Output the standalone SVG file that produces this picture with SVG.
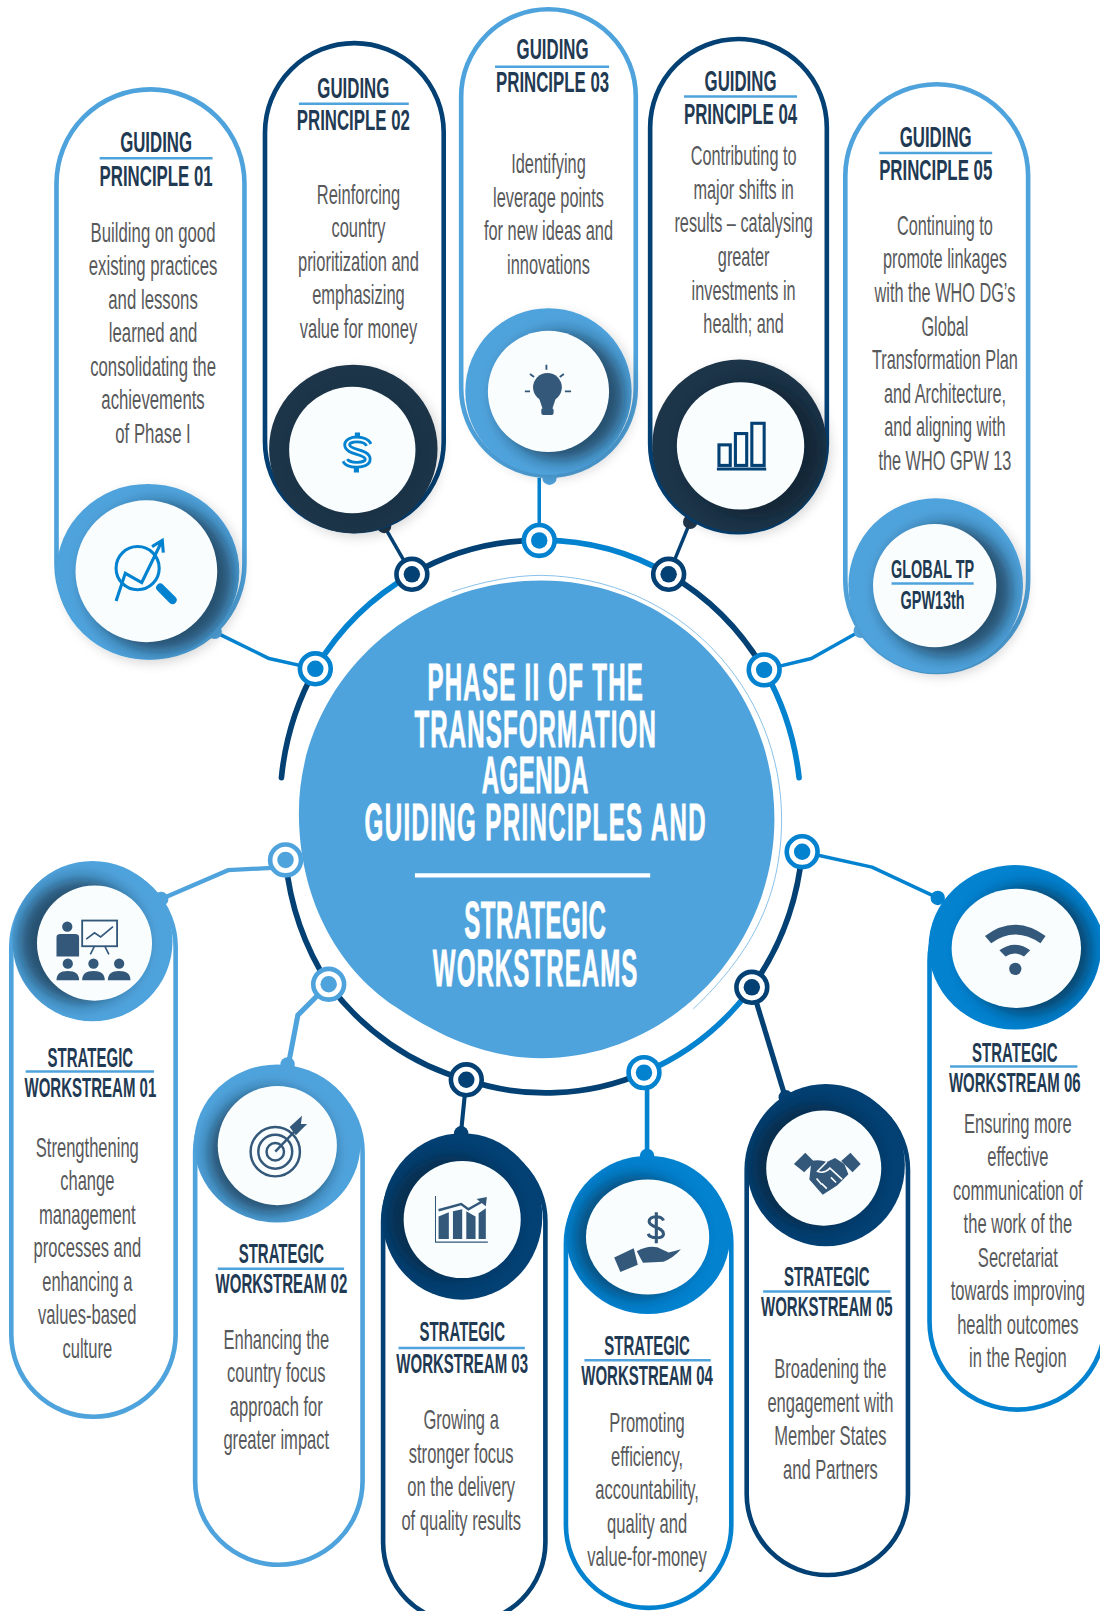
<svg xmlns="http://www.w3.org/2000/svg" width="1100" height="1611" viewBox="0 0 1100 1611">
<style>
text{font-family:"Liberation Sans",Arial,sans-serif;text-anchor:middle}
.h{font-weight:700;font-size:29px;fill:#1f3a52}
.w{font-weight:700;font-size:26px;fill:#1f3a52}
.b{font-size:27px;fill:#58595b}
.t{font-weight:700;font-size:51px;fill:#fff;stroke:#fff;stroke-width:.8}
.u{stroke:#4fa3dc;stroke-width:2.4;fill:none}
.pill{fill:#fff;stroke-width:4.5}
.in{fill:#f9fdfe}
.sh{fill:#071c2c;opacity:.62;filter:url(#blur)}
.lt{stroke:#4fa3dc}.nv{stroke:#034073}.br{stroke:#0382d0}
.flt{fill:#4fa3dc}.fnv{fill:#034073}.fbr{fill:#0382d0}.fdk{fill:#1f3549}
.arc{fill:none;stroke-width:5.5;stroke-linecap:round}
.lnk{fill:none;stroke-width:3.4;stroke-linejoin:round}
.ring{filter:url(#ds)}
.ic{fill:#34587a}
.icl{fill:none;stroke:#34587a;stroke-width:2.4}
.hub{fill:#fff;stroke-width:4.5}
</style>
<defs>
<filter id="blur" x="-40%" y="-40%" width="180%" height="180%"><feGaussianBlur stdDeviation="8"/></filter>
<filter id="ds" x="-20%" y="-20%" width="140%" height="140%"><feDropShadow dx="4" dy="4" stdDeviation="5" flood-color="#000" flood-opacity=".15"/></filter>
<clipPath id="c1"><ellipse cx="144" cy="556.5" rx="89" ry="85.5"/></clipPath>
<clipPath id="c2"><circle cx="344" cy="437" r="82"/></clipPath>
<clipPath id="c3"><circle cx="534" cy="381" r="81"/></clipPath>
<clipPath id="c4"><ellipse cx="720" cy="434" rx="85" ry="84"/></clipPath>
<clipPath id="c5"><circle cx="911" cy="570" r="85"/></clipPath>
<clipPath id="d1"><ellipse cx="90" cy="916" rx="78" ry="78"/></clipPath>
<clipPath id="d2"><ellipse cx="270" cy="1113" rx="81" ry="77"/></clipPath>
<clipPath id="d3"><ellipse cx="450" cy="1184" rx="78" ry="81"/></clipPath>
<clipPath id="d4"><ellipse cx="631" cy="1202" rx="80" ry="77"/></clipPath>
<clipPath id="d5"><ellipse cx="804" cy="1134" rx="77" ry="79"/></clipPath>
<clipPath id="d6"><ellipse cx="988" cy="922" rx="84" ry="80"/></clipPath>
</defs>
<g transform="scale(1.0271,1.0274)">
<g id="connectors">
<path class="arc nv" d="M274 757A252 264 0 0 1 307 651"/>
<path class="arc br" d="M307 651A252 264 0 0 1 401 559"/>
<path class="arc nv" d="M401 559A252 264 0 0 1 525 526"/>
<path class="arc br" d="M525 526A252 264 0 0 1 651 559"/>
<path class="arc nv" d="M651 559A252 264 0 0 1 744 652"/>
<path class="arc br" d="M744 652A252 264 0 0 1 778 757"/>
<path class="arc nv" d="M278 837A252 264 0 0 0 320 958"/>
<path class="arc nv" d="M320 958A252 264 0 0 0 454 1051"/>
<path class="arc nv" d="M454 1051A252 264 0 0 0 627 1044"/>
<path class="arc br" d="M627 1044A252 264 0 0 0 732 961"/>
<path class="arc nv" d="M732 961A252 264 0 0 0 781 829"/>
<path class="lnk br" d="M209 615L262 641L307 651"/>
<path class="lnk nv" d="M374 512L401 559"/>
<path class="lnk br" d="M525 465V526"/>
<path class="lnk nv" d="M672 508L651 559"/>
<path class="lnk br" d="M838 614L790 641L744 652"/>
<path class="lnk lt" style="stroke-width:4.2" d="M157 875L222 847L278 844"/>
<path class="lnk lt" style="stroke-width:5" d="M320 958L290 988L281 1035"/>
<path class="lnk nv" style="stroke-width:4" d="M454 1051L449 1101"/>
<path class="lnk br" style="stroke-width:4.5" d="M630 1044V1125"/>
<path class="lnk nv" style="stroke-width:5" d="M732 961L764 1066"/>
<path class="lnk br" d="M781 829L849 844L913 874"/>
<circle class="flt" cx="209" cy="615" r="7"/><circle class="fdk" cx="374" cy="512" r="7"/><circle class="flt" cx="535" cy="465" r="7"/><circle class="fdk" cx="672" cy="508" r="7"/><circle class="flt" cx="838" cy="614" r="7"/>
<circle class="flt" cx="157" cy="875" r="7"/><circle class="flt" cx="280" cy="1036" r="7"/><circle class="fnv" cx="449" cy="1103" r="7"/><circle class="fbr" cx="630" cy="1125" r="7"/><circle class="fnv" cx="765" cy="1068" r="7"/><circle class="fbr" cx="913" cy="874" r="7"/>
</g>
<g id="hub">
<path fill="none" stroke="#7fbce6" stroke-width=".9" d="M440 576C470 566 500 560 527 560C660 562 762 670 761 800C760 870 735 925 675 982"/>
<path class="flt" d="M527 565C655 565 754 668 754 797C754 925 650 1030 527 1030C475 1030 430 1010 385 980C325 940 291 870 291 791C291 668 395 565 527 565Z"/>
<text class="t" transform="translate(521,681) scale(.46,1)" textLength="456" lengthAdjust="spacing">PHASE II OF THE</text>
<text class="t" transform="translate(521,727) scale(.46,1)" textLength="511" lengthAdjust="spacing">TRANSFORMATION</text>
<text class="t" transform="translate(521,772) scale(.46,1)" textLength="226" lengthAdjust="spacing">AGENDA</text>
<text class="t" transform="translate(521,818) scale(.46,1)" textLength="722" lengthAdjust="spacing">GUIDING PRINCIPLES AND</text>
<path stroke="#fff" stroke-width="4" d="M404 852H633"/>
<text class="t" transform="translate(521,913) scale(.46,1)" textLength="300" lengthAdjust="spacing">STRATEGIC</text>
<text class="t" transform="translate(521,960) scale(.46,1)" textLength="433" lengthAdjust="spacing">WORKSTREAMS</text>
</g>

<g id="gp1">
<rect class="pill lt" x="55" y="87" width="183" height="553" rx="91.5"/>
<ellipse class="ring flt" cx="144" cy="556.5" rx="89" ry="85.5"/>
<g clip-path="url(#c1)"><circle class="sh" cx="155" cy="562" r="72"/></g>
<circle class="in" cx="142.5" cy="556" r="69"/>
<g fill="none" stroke="#0382d0" stroke-width="3"><circle cx="134" cy="553" r="21"/><path d="M113 585L122 558L138 567L157 528M148 532L158 526L159 538"/></g>
<path stroke="#0382d0" stroke-width="8" stroke-linecap="round" d="M156 572L168 584"/>
<text class="h" transform="translate(152,148) scale(.565,1)">GUIDING</text><path class="u" d="M97 154H207"/>
<text class="h" transform="translate(152,181) scale(.565,1)">PRINCIPLE 01</text>
<text class="b" transform="translate(149,235.5) scale(.605,1)"><tspan x="0">Building on good</tspan><tspan x="0" dy="32.6">existing practices</tspan><tspan x="0" dy="32.6">and lessons</tspan><tspan x="0" dy="32.6">learned and</tspan><tspan x="0" dy="32.6">consolidating the</tspan><tspan x="0" dy="32.6">achievements</tspan><tspan x="0" dy="32.6">of Phase I</tspan></text>
</g>

<g id="gp2">
<rect class="pill nv" x="258" y="42" width="174" height="475" rx="87"/>
<circle class="ring fdk" cx="344" cy="437" r="82"/>
<g clip-path="url(#c2)"><circle class="sh" cx="350" cy="442" r="64" style="opacity:.12"/></g>
<circle class="in" cx="343" cy="438" r="61.5"/>
<path stroke="#0382d0" stroke-width="5" d="M348 421V428M347 453V460"/>
<path fill="none" stroke="#0382d0" stroke-width="7.5" d="M359 433C356 426 338 426 338 433C338 441 358 439 358 447C358 454 339 454 336 448"/>
<path fill="none" stroke="#f9fdfe" stroke-width="2" d="M359 433C356 426 338 426 338 433C338 441 358 439 358 447C358 454 339 454 336 448"/>
<text class="h" transform="translate(344,95) scale(.565,1)">GUIDING</text><path class="u" d="M291 101H398"/>
<text class="h" transform="translate(344,127) scale(.565,1)">PRINCIPLE 02</text>
<text class="b" transform="translate(349,198.5) scale(.595,1)"><tspan x="0">Reinforcing</tspan><tspan x="0" dy="32.6">country</tspan><tspan x="0" dy="32.6">prioritization and</tspan><tspan x="0" dy="32.6">emphasizing</tspan><tspan x="0" dy="32.6">value for money</tspan></text>
</g>

<g id="gp3">
<rect class="pill lt" x="449" y="9" width="170" height="454" rx="85"/>
<circle class="ring flt" cx="534" cy="381" r="81"/>
<g clip-path="url(#c3)"><circle class="sh" cx="546" cy="386" r="62"/></g>
<circle class="in" cx="534" cy="381" r="59"/>
<circle class="ic" cx="533" cy="377" r="14"/><path class="ic" d="M524 385H542L538 397H528Z"/><rect class="ic" x="527" y="397" width="12" height="7" rx="2"/>
<path class="icl" style="stroke-width:1.8" d="M532 355V360M511 381H516M550 381H556M516 364L520 367M549 364L545 367"/>
<text class="h" transform="translate(538,57.5) scale(.565,1)">GUIDING</text><path class="u" d="M482 65H593"/>
<text class="h" transform="translate(538,90) scale(.565,1)">PRINCIPLE 03</text>
<text class="b" transform="translate(534,168.5) scale(.59,1)"><tspan x="0">Identifying</tspan><tspan x="0" dy="32.6">leverage points</tspan><tspan x="0" dy="32.6">for new ideas and</tspan><tspan x="0" dy="32.6">innovations</tspan></text>
</g>

<g id="gp4">
<rect class="pill nv" x="633" y="38" width="172" height="480" rx="86"/>
<ellipse class="ring fdk" cx="720" cy="434" rx="85" ry="84"/>
<g clip-path="url(#c4)"><circle class="sh" cx="733" cy="438" r="66"/></g>
<circle class="in" cx="721" cy="434" r="62"/>
<g fill="none" stroke="#034073" stroke-width="3"><rect x="700" y="433" width="11" height="20"/><rect x="716" y="422" width="11" height="31"/><rect x="732" y="412" width="12" height="41"/><path d="M698 456.5H746"/></g>
<text class="h" transform="translate(721,89) scale(.565,1)">GUIDING</text><path class="u" d="M666 94H776"/>
<text class="h" transform="translate(721,121) scale(.565,1)">PRINCIPLE 04</text>
<text class="b" transform="translate(724,160.5) scale(.587,1)"><tspan x="0">Contributing to</tspan><tspan x="0" dy="32.8">major shifts in</tspan><tspan x="0" dy="32.8">results – catalysing</tspan><tspan x="0" dy="32.8">greater</tspan><tspan x="0" dy="32.8">investments in</tspan><tspan x="0" dy="32.8">health; and</tspan></text>
</g>

<g id="gp5">
<rect class="pill lt" x="823" y="82" width="178" height="572" rx="89"/>
<circle class="ring flt" cx="911" cy="570" r="85"/>
<g clip-path="url(#c5)"><circle class="sh" cx="921" cy="575" r="64"/></g>
<circle class="in" cx="910" cy="570" r="60"/>
<text class="w" transform="translate(908,563) scale(.54,1)">GLOBAL TP</text><path class="u" d="M868 568H948"/>
<text class="w" transform="translate(908,593) scale(.54,1)">GPW13th</text>
<text class="h" transform="translate(911,143) scale(.565,1)">GUIDING</text><path class="u" d="M856 149H966"/>
<text class="h" transform="translate(911,175) scale(.565,1)">PRINCIPLE 05</text>
<text class="b" transform="translate(920,228.5) scale(.587,1)"><tspan x="0">Continuing to</tspan><tspan x="0" dy="32.7">promote linkages</tspan><tspan x="0" dy="32.7">with the WHO DG’s</tspan><tspan x="0" dy="32.7">Global</tspan><tspan x="0" dy="32.7">Transformation Plan</tspan><tspan x="0" dy="32.7">and Architecture,</tspan><tspan x="0" dy="32.7">and aligning with</tspan><tspan x="0" dy="32.7">the WHO GPW 13</tspan></text>
</g>

<g id="ws1">
<rect class="pill lt" x="11" y="842" width="160" height="537" rx="80"/>
<ellipse class="flt" cx="90" cy="916" rx="78" ry="78"/>
<g clip-path="url(#d1)"><circle class="sh" cx="79" cy="916" r="60"/></g>
<circle class="in" cx="92" cy="918" r="56"/>
<circle class="ic" cx="65.5" cy="902" r="5"/><path class="ic" d="M55 912Q55 909 59 909H73Q77 909 77 912V931H55Z"/>
<rect x="80" y="896" width="34" height="25" fill="none" stroke="#34587a" stroke-width="1.8"/><path class="icl" style="stroke-width:1.6" d="M84 914L92 908L98 912L110 902M92 921L88 929M102 921L106 929"/>
<g class="ic"><circle cx="66" cy="938" r="5"/><path d="M55 954Q55 945 66 945Q77 945 77 954Z"/><circle cx="91" cy="938" r="5"/><path d="M80 954Q80 945 91 945Q102 945 102 954Z"/><circle cx="116" cy="938" r="5"/><path d="M105 954Q105 945 116 945Q127 945 127 954Z"/></g>
<text class="w" transform="translate(88,1038.5) scale(.562,1)">STRATEGIC</text><path class="u" d="M25 1043H150"/>
<text class="w" transform="translate(88,1068) scale(.562,1)">WORKSTREAM 01</text>
<text class="b" transform="translate(85,1126) scale(.597,1)"><tspan x="0">Strengthening</tspan><tspan x="0" dy="32.6">change</tspan><tspan x="0" dy="32.6">management</tspan><tspan x="0" dy="32.6">processes and</tspan><tspan x="0" dy="32.6">enhancing a</tspan><tspan x="0" dy="32.6">values-based</tspan><tspan x="0" dy="32.6">culture</tspan></text>
</g>

<g id="ws2">
<rect class="pill lt" x="190" y="1040" width="163" height="483" rx="81.5"/>
<ellipse class="flt" cx="270" cy="1113" rx="81" ry="77"/>
<g clip-path="url(#d2)"><circle class="sh" cx="263" cy="1121" r="60"/></g>
<circle class="in" cx="270" cy="1115" r="58"/>
<g fill="none" stroke="#34587a" stroke-width="2.4"><circle cx="268" cy="1121" r="24"/><circle cx="268" cy="1121" r="16.5"/><circle cx="268" cy="1121" r="8.5"/><path d="M268 1121L288 1100"/></g>
<path class="ic" d="M282 1097L294 1086L293 1094L299 1094L288 1105Z"/>
<text class="w" transform="translate(274,1229.5) scale(.562,1)">STRATEGIC</text><path class="u" d="M212 1235H335"/>
<text class="w" transform="translate(274,1259) scale(.562,1)">WORKSTREAM 02</text>
<text class="b" transform="translate(269,1313) scale(.597,1)"><tspan x="0">Enhancing the</tspan><tspan x="0" dy="32.6">country focus</tspan><tspan x="0" dy="32.6">approach for</tspan><tspan x="0" dy="32.6">greater impact</tspan></text>
</g>

<g id="ws3">
<rect class="pill nv" x="373" y="1110" width="158" height="470" rx="79"/>
<ellipse class="fnv" cx="450" cy="1184" rx="78" ry="81"/>
<g clip-path="url(#d3)"><circle class="sh" cx="439" cy="1185" r="60" style="opacity:.5"/></g>
<circle class="in" cx="450" cy="1187" r="57"/>
<g class="ic"><path d="M427 1184L437 1180V1206H427Z"/><path d="M441 1179L450 1177V1206H441Z"/><path d="M454 1179L463 1184V1206H454Z"/><path d="M466 1181L473 1176V1206H466Z"/></g>
<path class="icl" d="M427 1178L449 1172L456 1177L472 1168"/><path class="ic" d="M464 1167L474 1165L473 1174Z"/>
<path fill="none" stroke="#34587a" stroke-width="1" d="M424 1164V1209H475"/>
<text class="w" transform="translate(450,1305.5) scale(.562,1)">STRATEGIC</text><path class="u" d="M388 1312H511"/>
<text class="w" transform="translate(450,1336) scale(.562,1)">WORKSTREAM 03</text>
<text class="b" transform="translate(449,1391) scale(.597,1)"><tspan x="0">Growing a</tspan><tspan x="0" dy="32.6">stronger focus</tspan><tspan x="0" dy="32.6">on the delivery</tspan><tspan x="0" dy="32.6">of quality results</tspan></text>
</g>

<g id="ws4">
<rect class="pill br" x="551" y="1130" width="161" height="435" rx="80.5"/>
<ellipse class="fbr" cx="631" cy="1202" rx="80" ry="77"/>
<g clip-path="url(#d4)"><circle class="sh" cx="620" cy="1204" r="60" style="opacity:.5"/></g>
<ellipse class="in" cx="630.5" cy="1204" rx="60" ry="56"/>
<path class="icl" style="stroke-width:3" d="M646 1188C644 1183 632 1183 632 1189C632 1195 646 1194 646 1201C646 1206 633 1206 631 1201M639 1180V1210"/>
<path class="ic" d="M598 1224L617 1215L621 1231L604 1238Z"/>
<path class="ic" d="M620 1218Q630 1212 640 1214L651 1219Q657 1218 663 1216Q655 1225 646 1228L626 1229Z"/>
<text class="w" transform="translate(630,1318.5) scale(.562,1)">STRATEGIC</text><path class="u" d="M569 1324H692"/>
<text class="w" transform="translate(630,1348) scale(.562,1)">WORKSTREAM 04</text>
<text class="b" transform="translate(630,1394) scale(.597,1)"><tspan x="0">Promoting</tspan><tspan x="0" dy="32.6">efficiency,</tspan><tspan x="0" dy="32.6">accountability,</tspan><tspan x="0" dy="32.6">quality and</tspan><tspan x="0" dy="32.6">value-for-money</tspan></text>
</g>

<g id="ws5">
<rect class="pill nv" x="727" y="1060" width="157" height="473" rx="78.5"/>
<ellipse class="fnv" cx="804" cy="1134" rx="77" ry="79"/>
<g clip-path="url(#d5)"><circle class="sh" cx="793" cy="1135" r="60" style="opacity:.55"/></g>
<circle class="in" cx="802" cy="1137" r="56"/>
<g class="ic"><path d="M773 1133L784 1122L793 1131L783 1141Z"/><path d="M838 1133L828 1122L819 1130L830 1141Z"/><path d="M790 1130Q798 1128 805 1131L813 1127L822 1133L826 1143L815 1154L801 1163L788 1148Z"/></g>
<path fill="none" stroke="#f9fdfe" stroke-width="1.6" d="M805 1131L796 1140Q802 1143 808 1137L820 1148M800 1152L805 1157M795 1147L800 1153M809 1146L814 1151"/>
<text class="w" transform="translate(805,1251.5) scale(.562,1)">STRATEGIC</text><path class="u" d="M743 1257H867"/>
<text class="w" transform="translate(805,1281) scale(.562,1)">WORKSTREAM 05</text>
<text class="b" transform="translate(808.5,1341.5) scale(.597,1)"><tspan x="0">Broadening the</tspan><tspan x="0" dy="32.6">engagement with</tspan><tspan x="0" dy="32.6">Member States</tspan><tspan x="0" dy="32.6">and Partners</tspan></text>
</g>

<g id="ws6">
<rect class="pill br" x="905" y="850" width="171" height="522" rx="85.5"/>
<ellipse class="fbr" cx="988" cy="922" rx="84" ry="80"/>
<g clip-path="url(#d6)"><circle class="sh" cx="1000" cy="925" r="62"/></g>
<ellipse class="in" cx="989.5" cy="923" rx="63" ry="58"/>
<g class="ic"><path d="M959 911Q988 889 1018 911L1013 918Q988 901 965 918Z"/><path d="M973 925Q988 914 1003 925L997 931Q988 925 979 931Z"/><circle cx="988.5" cy="943" r="6"/></g>
<text class="w" transform="translate(988,1033.5) scale(.562,1)">STRATEGIC</text><path class="u" d="M925 1038H1049"/>
<text class="w" transform="translate(988,1063) scale(.562,1)">WORKSTREAM 06</text>
<text class="b" transform="translate(991,1102.5) scale(.597,1)"><tspan x="0">Ensuring more</tspan><tspan x="0" dy="32.6">effective</tspan><tspan x="0" dy="32.6">communication of</tspan><tspan x="0" dy="32.6">the work of the</tspan><tspan x="0" dy="32.6">Secretariat</tspan><tspan x="0" dy="32.6">towards improving</tspan><tspan x="0" dy="32.6">health outcomes</tspan><tspan x="0" dy="32.6">in the Region</tspan></text>
</g>

<g id="hub-nodes">
<g class="br"><circle class="hub" cx="307" cy="651" r="15"/><circle class="fbr" style="stroke:none" cx="307" cy="651" r="8"/></g>
<g class="nv"><circle class="hub" cx="401" cy="559" r="15"/><circle class="fnv" style="stroke:none" cx="401" cy="559" r="8"/></g>
<g class="br"><circle class="hub" cx="525" cy="526" r="15"/><circle class="fbr" style="stroke:none" cx="525" cy="526" r="8"/></g>
<g class="nv"><circle class="hub" cx="651" cy="559" r="15"/><circle class="fnv" style="stroke:none" cx="651" cy="559" r="8"/></g>
<g class="br"><circle class="hub" cx="744" cy="652" r="15"/><circle class="fbr" style="stroke:none" cx="744" cy="652" r="8"/></g>
<g class="br"><circle class="hub" cx="781" cy="829" r="15"/><circle class="fbr" style="stroke:none" cx="781" cy="829" r="8"/></g>
<g class="nv"><circle class="hub" cx="732" cy="961" r="15"/><circle class="fnv" style="stroke:none" cx="732" cy="961" r="8"/></g>
<g class="br"><circle class="hub" cx="627" cy="1044" r="15"/><circle class="fbr" style="stroke:none" cx="627" cy="1044" r="8"/></g>
<g class="nv"><circle class="hub" cx="454" cy="1051" r="15"/><circle class="fnv" style="stroke:none" cx="454" cy="1051" r="8"/></g>
<g class="lt"><circle class="hub" cx="320" cy="958" r="15"/><circle class="flt" style="stroke:none" cx="320" cy="958" r="8"/></g>
<g class="lt"><circle class="hub" cx="278" cy="837" r="15"/><circle class="flt" style="stroke:none" cx="278" cy="837" r="8"/></g>
</g>
</g>
</svg>
